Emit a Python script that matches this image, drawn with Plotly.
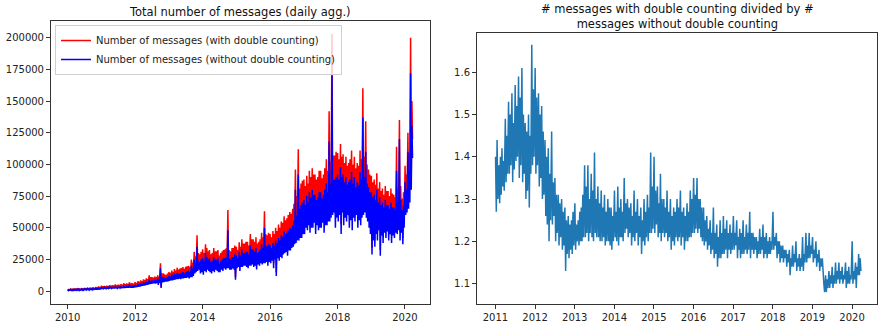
import plotly.graph_objects as go
import pandas as pd

# ---------------- data ----------------
# Four readings per month (peak, trough, peak, trough), values in thousands of messages
left_start = "2010-01"
with_k = [
    # 2010
    1.5,0.7,1.3,0.8, 1.7,0.8,1.4,0.8, 1.8,0.8,1.6,0.9, 2.0,0.9,1.7,0.9, 2.2,0.9,1.9,1.0, 2.3,1.0,2.0,1.1,
    2.5,1.1,2.2,1.2, 2.6,1.2,2.3,1.2, 2.8,1.2,2.5,1.3, 3.0,1.3,2.7,1.4, 3.2,1.5,3.0,1.6, 3.6,1.7,3.2,1.8,
    # 2011
    4.2,2.5,3.9,2.8, 4.0,2.6,3.8,2.8, 4.3,2.8,4.0,2.9, 4.6,2.9,4.3,3.1, 4.7,3.0,4.5,3.2, 5.2,3.1,4.7,3.3,
    5.0,3.3,4.9,3.5, 5.4,3.5,5.1,3.6, 6.2,3.6,5.4,3.8, 6.0,3.8,5.6,3.9, 7.0,3.9,6.0,4.0, 6.2,4.0,5.8,4.2,
    # 2012
    7.0,4.3,6.4,4.6, 7.8,5.0,7.2,5.2, 8.4,5.6,7.9,5.8, 9.3,6.2,8.6,6.3, 10.0,6.8,9.5,7.0, 12.5,7.3,11.0,7.6,
    11.0,7.8,10.6,8.0, 11.5,7.6,11.0,8.1, 12.5,6.3,11.5,8.2, 22.0,3.2,14.0,8.8, 14.0,8.8,13.2,9.4, 12.6,9.4,13.8,9.8,
    # 2013
    15.0,10.0,14.4,10.5, 16.2,10.6,15.0,11.0, 17.5,11.2,16.2,11.8, 18.5,11.9,17.0,12.2, 17.8,11.9,18.2,12.5, 19.0,12.5,17.6,13.1,
    19.2,13.1,19.5,13.5, 20.0,12.5,19.0,13.8, 25.0,13.8,22.5,15.0, 31.0,17.5,27.5,18.8, 44.0,20.0,30.0,21.2, 29.0,17.5,31.0,18.8,
    # 2014
    33.0,16.2,30.0,20.0, 37.0,18.8,34.0,21.2, 31.5,20.0,32.5,18.8, 29.0,17.5,30.0,20.0, 34.0,18.8,31.5,21.2, 31.5,20.0,32.5,18.8,
    28.0,18.8,30.0,21.2, 31.5,20.0,32.5,22.5, 33.0,21.2,34.0,22.5, 64.0,22.5,32.5,21.2, 31.5,21.2,34.0,22.5, 34.0,21.2,36.0,11.2,
    # 2015
    35.0,22.5,32.5,23.8, 38.5,20.0,35.0,23.8, 41.0,23.8,37.5,25.0, 37.5,25.0,39.0,23.8, 39.0,22.5,36.0,25.0, 45.0,25.0,41.0,26.2,
    41.0,23.8,39.0,25.0, 42.5,21.2,37.5,26.2, 39.0,25.0,41.0,27.5, 46.0,26.2,42.5,27.5, 63.0,27.5,45.0,28.8, 44.0,25.0,46.0,28.8,
    # 2016
    45.0,27.5,42.5,30.0, 47.5,22.5,45.0,31.2, 50.0,15.0,47.5,32.5, 52.5,30.0,50.0,33.8, 55.0,32.5,54.0,36.2, 59.0,37.5,56.0,38.8,
    57.5,35.0,60.0,40.0, 62.5,40.0,61.0,42.5, 65.0,43.8,69.0,46.2, 96.0,47.5,75.0,50.0, 112.0,50.0,81.0,52.5, 85.0,52.5,87.0,56.0,
    # 2017
    88.0,55.0,83.0,61.0, 91.0,58.5,85.0,63.5, 95.0,56.0,90.0,61.0, 97.0,61.0,92.0,66.0, 92.0,55.0,88.0,63.5, 90.0,58.5,95.0,61.0,
    95.0,61.0,89.0,66.0, 92.0,56.0,97.0,63.5, 104.0,63.5,95.0,67.0, 142.0,67.0,102.0,71.0, 203.0,73.0,107.0,75.5, 107.0,61.0,110.0,71.0,
    # 2018
    109.0,65.0,104.0,71.0, 116.0,53.0,106.0,73.0, 108.0,61.0,101.0,68.5, 106.0,65.0,99.0,71.0, 101.0,59.0,104.0,66.0, 111.0,56.5,100.0,68.5,
    106.0,65.0,97.0,71.0, 101.0,59.0,99.0,66.0, 111.0,61.0,104.0,68.5, 160.0,71.0,106.0,73.0, 134.0,68.5,100.0,65.0, 96.0,59.0,92.0,53.0,
    # 2019
    91.0,34.0,86.0,46.5, 88.0,40.5,84.0,52.0, 93.0,46.5,81.0,55.5, 86.0,32.5,79.0,51.0, 81.0,43.0,76.0,53.0, 83.0,48.5,79.0,54.5,
    79.0,46.5,75.0,52.0, 81.0,44.0,77.0,51.0, 76.0,48.5,74.0,53.0, 114.0,52.0,81.0,55.5, 135.0,46.5,83.0,53.0, 73.0,42.0,78.0,56.0,
    # 2020
    99.0,69.0,92.0,71.0, 125.0,75.0,109.0,80.0, 200.0,92.0,150.0,120.0,
]
without_k = [
    # 2010
    1.2,0.5,1.0,0.6, 1.3,0.6,1.1,0.6, 1.4,0.6,1.2,0.7, 1.5,0.7,1.3,0.7, 1.6,0.7,1.4,0.8, 1.7,0.8,1.5,0.8,
    1.8,0.8,1.6,0.9, 1.9,0.9,1.7,0.9, 2.0,0.9,1.8,1.0, 2.2,1.0,2.0,1.1, 2.4,1.1,2.2,1.2, 2.7,1.3,2.3,1.4,
    # 2011
    3.0,1.8,2.8,2.0, 2.9,1.9,2.7,2.0, 3.1,2.0,2.9,2.1, 3.3,2.1,3.0,2.2, 3.2,2.1,3.1,2.2, 3.5,2.2,3.2,2.3,
    3.4,2.3,3.3,2.4, 3.6,2.4,3.4,2.5, 4.0,2.5,3.6,2.6, 4.3,2.6,3.9,2.7, 5.0,2.7,4.2,2.8, 4.2,2.8,4.0,2.9,
    # 2012
    4.8,3.0,4.4,3.2, 5.5,3.5,5.0,3.6, 6.0,4.0,5.6,4.2, 6.8,4.5,6.2,4.6, 7.5,5.0,7.0,5.2, 9.0,5.5,8.0,5.8,
    8.5,6.0,8.2,6.2, 9.0,6.0,8.6,6.4, 10.0,5.0,9.0,6.5, 18.0,2.5,11.0,7.0, 11.0,7.0,10.5,7.5, 10.0,7.5,11.0,7.8,
    # 2013
    12.0,8.0,11.5,8.4, 13.0,8.5,12.0,8.8, 14.0,9.0,13.0,9.5, 14.5,9.5,13.5,9.8, 14.0,9.5,14.5,10.0, 15.0,10.0,14.0,10.5,
    15.0,10.5,15.5,10.8, 16.0,10.0,15.0,11.0, 20.0,11.0,18.0,12.0, 25.0,14.0,22.0,15.0, 35.0,16.0,24.0,17.0, 23.0,14.0,25.0,15.0,
    # 2014
    26.0,13.0,24.0,16.0, 30.0,15.0,27.0,17.0, 25.0,16.0,26.0,15.0, 23.0,14.0,24.0,16.0, 27.0,15.0,25.0,17.0, 25.0,16.0,26.0,15.0,
    22.0,15.0,24.0,17.0, 25.0,16.0,26.0,18.0, 26.0,17.0,27.0,18.0, 48.0,18.0,26.0,17.0, 25.0,17.0,27.0,18.0, 27.0,17.0,29.0,9.0,
    # 2015
    28.0,18.0,26.0,19.0, 31.0,16.0,28.0,19.0, 33.0,19.0,30.0,20.0, 30.0,20.0,31.0,19.0, 31.0,18.0,29.0,20.0, 36.0,20.0,33.0,21.0,
    33.0,19.0,31.0,20.0, 34.0,17.0,30.0,21.0, 31.0,20.0,33.0,22.0, 37.0,21.0,34.0,22.0, 50.0,22.0,36.0,23.0, 35.0,20.0,37.0,23.0,
    # 2016
    36.0,22.0,34.0,24.0, 38.0,18.0,36.0,25.0, 40.0,12.0,38.0,26.0, 42.0,24.0,40.0,27.0, 44.0,26.0,43.0,29.0, 47.0,30.0,45.0,31.0,
    46.0,28.0,48.0,32.0, 50.0,32.0,49.0,34.0, 52.0,35.0,55.0,37.0, 80.0,38.0,60.0,40.0, 92.0,40.0,65.0,42.0, 68.0,42.0,70.0,45.0,
    # 2017
    72.0,45.0,68.0,50.0, 75.0,48.0,70.0,52.0, 78.0,46.0,74.0,50.0, 80.0,50.0,76.0,54.0, 76.0,45.0,72.0,52.0, 74.0,48.0,78.0,50.0,
    78.0,50.0,73.0,54.0, 76.0,46.0,80.0,52.0, 85.0,52.0,78.0,55.0, 118.0,55.0,84.0,58.0, 170.0,60.0,88.0,62.0, 88.0,50.0,90.0,58.0,
    # 2018
    92.0,55.0,88.0,60.0, 98.0,45.0,90.0,62.0, 92.0,52.0,86.0,58.0, 90.0,55.0,84.0,60.0, 86.0,50.0,88.0,56.0, 94.0,48.0,85.0,58.0,
    90.0,55.0,82.0,60.0, 86.0,50.0,84.0,56.0, 94.0,52.0,88.0,58.0, 137.0,60.0,90.0,62.0, 110.0,58.0,85.0,55.0, 82.0,50.0,78.0,45.0,
    # 2019
    78.0,29.0,74.0,40.0, 76.0,35.0,72.0,45.0, 80.0,40.0,70.0,48.0, 74.0,28.0,68.0,44.0, 70.0,38.0,66.0,46.0, 72.0,42.0,68.0,47.0,
    68.0,40.0,65.0,45.0, 70.0,38.0,66.0,44.0, 66.0,42.0,64.0,46.0, 95.0,45.0,70.0,48.0, 120.0,40.0,72.0,46.0, 64.0,37.0,68.0,50.0,
    # 2020
    86.0,60.0,80.0,62.0, 110.0,65.0,95.0,70.0, 172.0,80.0,130.0,105.0,
]

# ratio (with / without double counting), four readings per month
right_start = "2011-01"
ratio = [
    # 2011
    1.40,1.27,1.44,1.30, 1.38,1.29,1.40,1.31, 1.42,1.33,1.39,1.32, 1.49,1.34,1.45,1.36, 1.53,1.36,1.50,1.38, 1.55,1.34,1.48,1.37,
    1.57,1.39,1.52,1.40, 1.59,1.35,1.54,1.38, 1.61,1.34,1.50,1.36, 1.48,1.30,1.46,1.32, 1.50,1.28,1.45,1.36, 1.665,1.38,1.56,1.40,
    # 2012
    1.61,1.36,1.54,1.38, 1.55,1.33,1.50,1.35, 1.52,1.30,1.46,1.31, 1.44,1.26,1.40,1.24, 1.42,1.20,1.36,1.25, 1.46,1.24,1.34,1.26,
    1.35,1.20,1.31,1.22, 1.31,1.19,1.29,1.21, 1.30,1.18,1.27,1.19, 1.28,1.13,1.25,1.17, 1.26,1.16,1.24,1.18, 1.25,1.17,1.27,1.19,
    # 2013
    1.29,1.18,1.24,1.20, 1.25,1.19,1.27,1.20, 1.28,1.20,1.31,1.21, 1.38,1.21,1.33,1.22, 1.38,1.20,1.30,1.22, 1.36,1.21,1.32,1.20,
    1.41,1.22,1.30,1.21, 1.33,1.21,1.29,1.20, 1.32,1.20,1.28,1.21, 1.31,1.19,1.27,1.20, 1.30,1.20,1.28,1.19, 1.28,1.18,1.26,1.20,
    # 2014
    1.32,1.21,1.27,1.20, 1.33,1.19,1.28,1.21, 1.30,1.21,1.27,1.20, 1.35,1.22,1.29,1.23, 1.30,1.21,1.28,1.22, 1.29,1.19,1.26,1.21,
    1.32,1.20,1.27,1.22, 1.30,1.19,1.26,1.21, 1.28,1.17,1.25,1.20, 1.30,1.19,1.27,1.21, 1.31,1.20,1.28,1.22, 1.41,1.22,1.33,1.23,
    # 2015
    1.40,1.22,1.32,1.24, 1.33,1.21,1.29,1.22, 1.36,1.20,1.30,1.22, 1.30,1.21,1.28,1.22, 1.32,1.20,1.27,1.21, 1.30,1.18,1.26,1.20,
    1.28,1.19,1.27,1.21, 1.30,1.20,1.28,1.21, 1.32,1.19,1.27,1.21, 1.28,1.18,1.26,1.20, 1.29,1.20,1.27,1.21, 1.32,1.21,1.30,1.22,
    # 2016
    1.35,1.22,1.31,1.23, 1.35,1.22,1.30,1.23, 1.30,1.21,1.28,1.20, 1.28,1.19,1.25,1.20, 1.26,1.18,1.23,1.19, 1.25,1.17,1.22,1.18,
    1.28,1.16,1.22,1.17, 1.24,1.14,1.21,1.16, 1.25,1.16,1.22,1.17, 1.26,1.17,1.23,1.18, 1.25,1.16,1.22,1.18, 1.24,1.17,1.22,1.18,
    # 2017
    1.26,1.18,1.22,1.19, 1.25,1.16,1.21,1.18, 1.23,1.16,1.22,1.17, 1.25,1.17,1.21,1.18, 1.24,1.17,1.22,1.18, 1.27,1.16,1.22,1.18,
    1.22,1.17,1.21,1.18, 1.21,1.16,1.20,1.17, 1.23,1.17,1.21,1.18, 1.24,1.16,1.21,1.17, 1.22,1.16,1.20,1.17, 1.21,1.17,1.20,1.18,
    # 2018
    1.27,1.18,1.21,1.19, 1.22,1.16,1.20,1.17, 1.20,1.15,1.19,1.16, 1.19,1.15,1.18,1.16, 1.18,1.14,1.17,1.15, 1.18,1.12,1.16,1.14,
    1.19,1.14,1.17,1.15, 1.20,1.13,1.16,1.14, 1.17,1.13,1.16,1.14, 1.21,1.13,1.17,1.15, 1.22,1.15,1.19,1.16, 1.22,1.16,1.19,1.17,
    # 2019
    1.21,1.15,1.18,1.16, 1.20,1.14,1.17,1.15, 1.18,1.13,1.16,1.14, 1.16,1.12,1.10,1.08, 1.12,1.08,1.11,1.09, 1.13,1.09,1.12,1.10,
    1.14,1.09,1.12,1.10, 1.15,1.10,1.13,1.11, 1.15,1.10,1.13,1.11, 1.14,1.10,1.12,1.11, 1.15,1.09,1.13,1.10, 1.14,1.10,1.12,1.11,
    # 2020
    1.20,1.10,1.13,1.11, 1.15,1.09,1.14,1.12, 1.17,1.12,1.16,1.13,
]

left_xticks = ["2010", "2012", "2014", "2016", "2018", "2020"]
left_yticks = [0, 25000, 50000, 75000, 100000, 125000, 150000, 175000, 200000]
right_xticks = ["2011", "2012", "2013", "2014", "2015", "2016", "2017", "2018", "2019", "2020"]
right_yticks = [1.1, 1.2, 1.3, 1.4, 1.5, 1.6]
READING_DAYS = [2, 9, 16, 23]   # day of month of each of the four readings


def reading_dates(start, n):
    months = pd.date_range(start, periods=(n + 3) // 4, freq="MS")
    return [m + pd.Timedelta(days=d - 1) for m in months for d in READING_DAYS][:n]


FONT = "DejaVu Sans"
fig = go.Figure()

fig.add_trace(go.Scatter(x=reading_dates(left_start, len(with_k)), y=[v * 1000 for v in with_k],
                         mode="lines", line=dict(color="#ff0000", width=1.5),
                         name="Number of messages (with double counting)", xaxis="x", yaxis="y"))
fig.add_trace(go.Scatter(x=reading_dates(left_start, len(without_k)), y=[v * 1000 for v in without_k],
                         mode="lines", line=dict(color="#0000ff", width=1.5),
                         name="Number of messages (without double counting)", xaxis="x", yaxis="y"))
fig.add_trace(go.Scatter(x=reading_dates(right_start, len(ratio)), y=ratio,
                         mode="lines", line=dict(color="#1f77b4", width=1.5),
                         showlegend=False, xaxis="x2", yaxis="y2"))

W, H = 878, 326
axis_common = dict(showline=True, mirror=True, linecolor="#333", linewidth=1,
                   ticks="outside", ticklen=4, tickcolor="#333", showgrid=False,
                   zeroline=False, tickfont=dict(family=FONT, size=10, color="#222"))

fig.update_layout(
    width=W, height=H, margin=dict(l=0, r=0, t=0, b=0),
    paper_bgcolor="white", plot_bgcolor="white",
    font=dict(family=FONT, size=10, color="#222"),
    xaxis=dict(domain=[51 / W, 430 / W], anchor="y", type="date",
               range=["2009-07-05", "2020-09-28"],
               tickvals=[f"{t}-01-01" for t in left_xticks], ticktext=left_xticks, **axis_common),
    yaxis=dict(domain=[(H - 304) / H, (H - 21) / H], anchor="x",
               range=[-10150, 213150], tickvals=left_yticks,
               ticktext=[str(v) for v in left_yticks], **axis_common),
    xaxis2=dict(domain=[477 / W, 877 / W], anchor="y2", type="date",
                range=["2010-07-15", "2020-08-18"],
                tickvals=[f"{t}-01-01" for t in right_xticks], ticktext=right_xticks, **axis_common),
    yaxis2=dict(domain=[(H - 303.5) / H, (H - 32.5) / H], anchor="x2",
                range=[1.053, 1.694], tickvals=right_yticks,
                ticktext=[f"{v:.1f}" for v in right_yticks], **axis_common),
    legend=dict(x=55 / W, y=(H - 25) / H, xanchor="left", yanchor="top",
                bgcolor="rgba(255,255,255,0.8)", bordercolor="#d0d0d0", borderwidth=1,
                font=dict(family=FONT, size=10, color="#222"), tracegroupgap=0,
                itemwidth=30),
    showlegend=True,
)

fig.add_annotation(text="Total number of messages (daily agg.)", x=240.5 / W, y=(H - 12) / H,
                   xref="paper", yref="paper", showarrow=False, xanchor="center", yanchor="middle",
                   font=dict(family=FONT, size=11.5, color="#111"))
fig.add_annotation(text="# messages with double counting divided by #<br>messages without double counting",
                   x=677 / W, y=(H - 16) / H, xref="paper", yref="paper", showarrow=False,
                   xanchor="center", yanchor="middle",
                   font=dict(family=FONT, size=11.5, color="#111"))

fig.write_html("out.html")
